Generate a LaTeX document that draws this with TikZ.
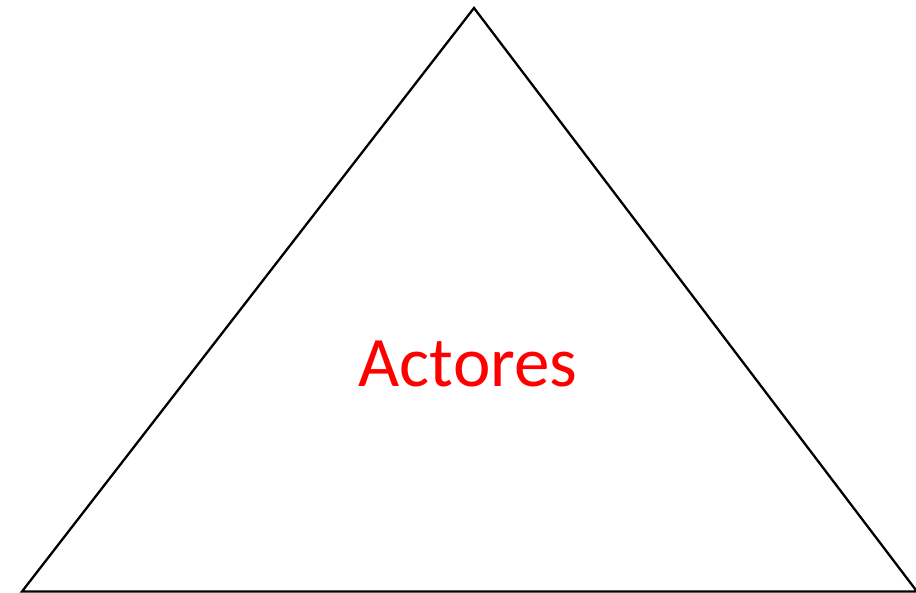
\documentclass[tikz,border=0pt]{standalone}
\usepackage{fontspec}
\setmainfont{Carlito}
\begin{document}
\begin{tikzpicture}[x=1pt,y=-1pt,
  tri/.style={draw=black, line width=2.3pt, line join=miter},
  lbl/.style={text=red, font=\fontsize{71}{84}\selectfont, inner sep=0pt, anchor=base}]
\useasboundingbox (0,0) rectangle (916,593);
\coordinate (apex) at (474,8);
\coordinate (bl) at (22,591.5);
\coordinate (br) at (917,591.5);
\draw[tri] (apex) -- (br) -- (bl) -- cycle;
\node[lbl] (t) at (468,387) {Actores};
\end{tikzpicture}
\end{document}
